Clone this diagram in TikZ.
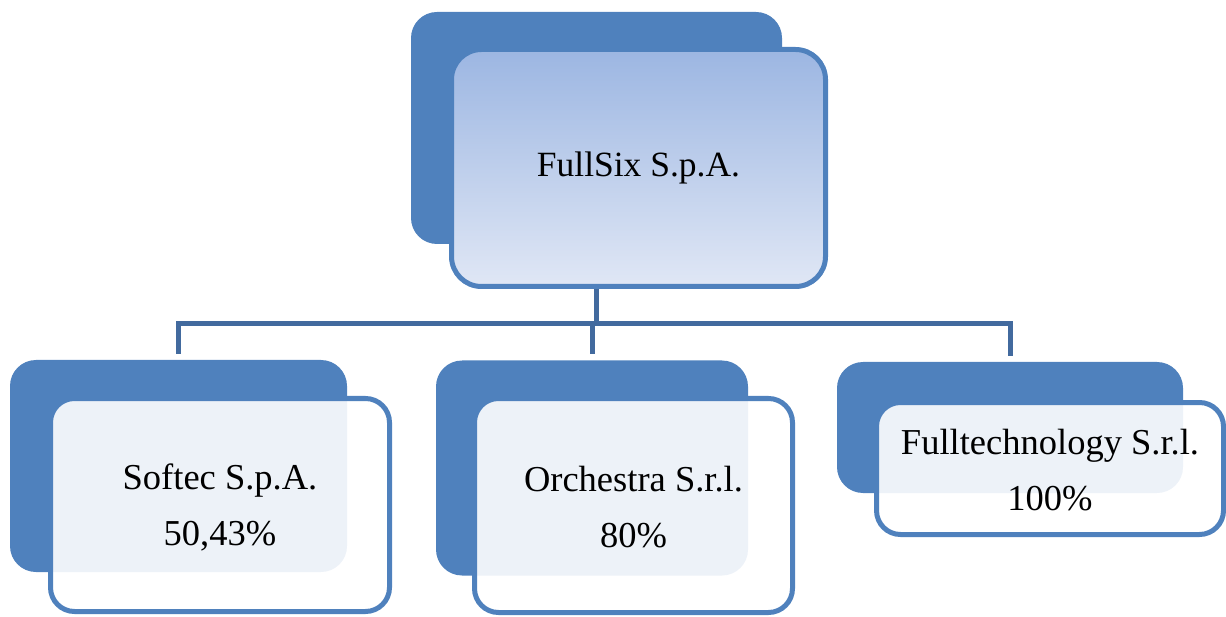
\documentclass[tikz,border=0pt]{standalone}
\usepackage{fontspec}
\setmainfont{Liberation Serif}
\definecolor{boxblue}{RGB}{79,129,189}
\definecolor{linkblue}{RGB}{66,106,158}
\definecolor{gradtop}{RGB}{156,182,226}
\definecolor{gradbot}{RGB}{224,231,245}
\begin{document}
\begin{tikzpicture}[x=1pt,y=-1pt,
  backbox/.style={fill=boxblue, draw=none, rounded corners=26pt, inner sep=0pt},
  frontbox/.style={draw=boxblue, line width=5pt, fill=white, fill opacity=0.9, text opacity=1,
     rounded corners=24pt, inner sep=0pt, align=center, font=\fontsize{36.5}{56}\selectfont},
  topbox/.style={draw=boxblue, line width=5pt, top color=gradtop, bottom color=gradbot,
     rounded corners=30pt, inner sep=0pt, align=center, font=\fontsize{35.5}{56}\selectfont},
  link/.style={draw=linkblue, line width=5pt}]
\useasboundingbox (0,0) rectangle (1226,617);
% back rectangles
\node[backbox, minimum width=371pt, minimum height=232pt] (topback) at (596.5,128) {};
\node[backbox, minimum width=337pt, minimum height=212pt] (lback) at (178.5,466) {};
\node[backbox, minimum width=312pt, minimum height=215pt] (mback) at (592,468) {};
\node[backbox, minimum width=346pt, minimum height=131pt] (rback) at (1010,427.5) {};
% front boxes
\node[topbox, minimum width=374pt, minimum height=237pt] (top) at (638.5,168) {FullSix S.p.A.};
\node[frontbox, minimum width=339pt, minimum height=213pt] (lfront) at (220,505) {};
\node[frontbox, minimum width=318pt, minimum height=214pt] (mfront) at (633.5,505.5) {};
\node[frontbox, minimum width=347pt, minimum height=132pt] (rfront) at (1050,468.5) {};
\node[align=center, font=\fontsize{36.5}{56}\selectfont] (ltext) at ([yshift=-2pt]lfront.center) {Softec S.p.A.\\50,43\%};
\node[align=center, font=\fontsize{36.5}{56}\selectfont] (mtext) at ([yshift=-2pt]mfront.center) {Orchestra S.r.l.\\80\%};
\node[align=center, font=\fontsize{36.5}{56}\selectfont] (rtext) at ([yshift=-1.5pt]rfront.center) {Fulltechnology S.r.l.\\100\%};
% connectors
\coordinate (hub) at (596.5,324);
\draw[link] (top.south -| topback.center) -- (hub);
\draw[link, line cap=rect] (lback.north |- hub) -- (rback.north |- hub);
\draw[link, shorten >=6pt] (lback.north |- hub) -- (lback.north);
\draw[link, shorten >=6pt] (mback.north |- hub) -- (mback.north);
\draw[link, shorten >=6pt] (rback.north |- hub) -- (rback.north);
\end{tikzpicture}
\end{document}
